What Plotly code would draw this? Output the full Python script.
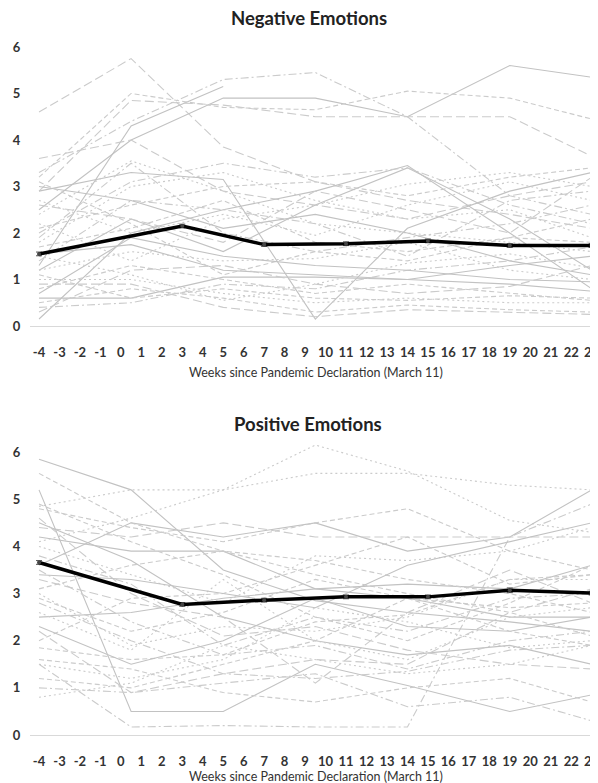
import plotly.graph_objects as go

# ---------------- data ----------------
x_ticks = list(range(-4, 24))
x_labels = [str(v) for v in x_ticks]
y_ticks = [0, 1, 2, 3, 4, 5, 6]

mean_weeks = [-4, 3, 7, 11, 15, 19, 23]
neg_mean = [1.55, 2.15, 1.75, 1.77, 1.83, 1.73, 1.73]
neg_err = [0.04, 0.04, 0.04, 0.04, 0.04, 0.04, 0.04]
pos_mean = [3.66, 2.77, 2.86, 2.93, 2.93, 3.07, 3.01]
pos_err = [0.04, 0.04, 0.04, 0.04, 0.04, 0.05, 0.04]

# individual trajectories (sampled at these weeks)
ind_weeks = [-4, 0.5, 5, 9.5, 14, 19, 23]

neg_individual = [
    [4.6, 5.75, 3.85, 3.1, 2.7, 2.4, 2.1],
    [3.3, 4.4, 5.3, 5.45, 4.5, 2.8, 2.4],
    [1.3, 4.3, 5.15, None, None, None, None],
    [2.5, 4.0, 4.9, 4.9, 4.5, 5.6, 5.35],
    [3.2, 5.0, 4.7, 4.65, 5.05, 4.9, 4.45],
    [2.9, 4.85, 4.75, 4.5, 4.5, 4.5, 3.65],
    [3.6, 4.0, 2.9, 2.6, 2.3, 2.8, 3.1],
    [1.2, 2.3, 1.6, 2.6, 3.4, 2.3, 1.2],
    [2.9, 3.3, 3.15, 0.15, 2.1, 2.9, 3.3],
    [0.15, 2.0, 2.5, 2.9, 3.45, 2.0, 0.8],
    [0.6, 0.6, 1.05, 1.05, 1.0, 0.9, 0.75],
    [1.55, 1.75, 1.2, 1.1, 1.0, 1.3, 1.5],
    [2.4, 3.55, 2.9, 2.2, 2.0, 1.8, 1.6],
    [1.9, 3.5, 2.0, 1.6, 1.9, 2.2, 2.6],
    [0.8, 1.3, 1.0, 0.7, 0.9, 0.7, 0.55],
    [1.0, 1.0, 0.7, 0.5, 0.6, 0.5, 0.5],
    [0.5, 0.8, 0.6, 0.3, 0.45, 0.35, 0.3],
    [2.1, 2.6, 3.0, 3.1, 2.8, 3.2, 3.4],
    [1.4, 2.7, 2.5, 2.2, 1.5, 2.7, 2.9],
    [2.2, 1.4, 2.3, 2.6, 3.05, 3.3, 3.0],
    [0.9, 0.9, 0.4, 0.2, 0.35, 0.3, 0.25],
    [1.7, 2.1, 2.7, 1.8, 1.6, 1.9, 2.3],
    [3.0, 2.7, 2.1, 2.4, 2.0, 1.4, 1.1],
    [1.2, 1.6, 1.4, 1.45, 1.8, 1.2, 1.0],
    [2.6, 2.3, 1.8, 2.9, 2.5, 2.0, 3.2],
    [0.4, 0.5, 0.9, 0.8, 1.2, 1.4, 1.7],
    [1.8, 3.0, 3.3, 2.7, 2.3, 2.5, 1.9],
    [3.1, 2.2, 1.1, 1.6, 1.4, 1.9, 1.8],
    [0.7, 1.9, 1.5, 1.3, 1.2, 1.0, 0.95],
    [2.0, 3.1, 3.5, 3.2, 3.4, 2.6, 2.2],
    [1.1, 0.6, 0.8, 0.6, 0.55, 0.65, 0.6],
    [2.7, 2.0, 2.4, 1.95, 2.6, 3.1, 2.7],
    [0.3, 1.2, 1.3, 0.9, 0.7, 0.85, 1.3],
    [1.5, 1.1, 0.55, 0.9, 1.35, 1.55, 1.25],
]
neg_styles = ["longdash", "dashdot", "solid", "solid", "dash", "longdash", "longdash",
              "solid", "solid", "solid", "solid", "solid", "dot", "dashdot", "dash",
              "dot", "dash", "dash", "dashdot", "dot", "longdash", "dash", "solid",
              "dot", "longdash", "dashdot", "dot", "dash", "solid", "dashdot", "dash",
              "dot", "longdash", "dot"]

pos_individual = [
    [5.85, 5.2, 3.5, 2.85, 2.6, 2.4, 2.2],
    [4.85, 5.2, 5.2, 6.15, 5.6, 4.55, 4.3],
    [4.1, 4.6, 5.2, 5.55, 5.55, 5.3, 5.2],
    [5.2, 0.5, 0.5, 1.5, 1.05, 0.5, 0.85],
    [1.5, 0.17, 0.2, 0.17, 0.17, 4.2, 4.9],
    [3.6, 4.5, 4.2, 4.5, 3.9, 4.2, 5.2],
    [4.2, 3.9, 3.9, 3.1, 2.9, 2.5, 2.5],
    [4.4, 4.2, 4.5, 4.2, 4.2, 4.2, 4.2],
    [5.55, 4.5, 3.9, 3.4, 3.0, 2.6, 2.1],
    [4.8, 4.4, 4.1, 4.5, 4.8, 3.9, 3.5],
    [4.5, 3.7, 2.5, 2.0, 1.7, 1.9, 1.5],
    [3.5, 2.4, 1.7, 1.9, 1.4, 2.0, 2.2],
    [2.5, 2.6, 2.9, 3.1, 3.2, 3.1, 3.6],
    [1.85, 1.6, 1.7, 2.4, 2.55, 3.3, 3.4],
    [2.2, 0.9, 1.3, 1.6, 1.5, 2.6, 3.1],
    [1.2, 1.0, 1.5, 2.0, 2.9, 2.7, 2.8],
    [3.0, 1.9, 2.3, 2.2, 2.5, 3.3, 3.3],
    [2.8, 2.0, 1.3, 1.2, 1.35, 1.8, 1.9],
    [1.5, 1.2, 1.6, 2.7, 2.4, 1.85, 2.0],
    [3.3, 2.8, 2.5, 1.1, 2.6, 3.5, 2.8],
    [2.0, 2.9, 3.0, 3.6, 4.2, 3.2, 3.4],
    [4.0, 3.4, 2.8, 3.8, 3.7, 3.9, 4.4],
    [3.8, 3.2, 1.9, 2.5, 2.2, 2.9, 3.0],
    [1.6, 1.4, 0.9, 0.7, 1.0, 1.2, 0.7],
    [2.3, 1.5, 2.0, 2.9, 2.3, 2.2, 2.5],
    [3.1, 3.6, 3.9, 3.7, 3.3, 3.0, 2.6],
    [4.6, 3.0, 2.1, 2.3, 1.8, 1.5, 1.4],
    [2.6, 1.8, 3.3, 2.0, 1.6, 2.5, 2.7],
    [1.0, 0.9, 1.1, 1.3, 0.6, 0.8, 0.3],
    [3.4, 3.3, 3.0, 2.7, 3.6, 4.1, 4.5],
    [2.9, 2.2, 2.6, 3.3, 2.9, 2.2, 1.9],
    [4.9, 4.1, 3.4, 2.5, 2.0, 2.8, 3.6],
    [0.8, 1.1, 1.9, 1.6, 1.3, 1.5, 1.9],
]
pos_styles = ["solid", "dot", "dot", "solid", "dashdot", "solid", "solid", "longdash",
              "dash", "dash", "solid", "dashdot", "solid", "dash", "longdash", "dash",
              "dot", "dashdot", "dot", "longdash", "dash", "dot", "dashdot", "dash",
              "solid", "dash", "longdash", "dot", "dashdot", "solid", "dash", "dash", "dot"]

titles = ["Negative Emotions", "Positive Emotions"]
x_title = "Weeks since Pandemic Declaration (March 11)"

# ---------------- figure ----------------
dash_map = {"solid": "solid", "dash": "5px,3px", "longdash": "9px,4px",
            "dot": "2px,3px", "dashdot": "8px,3px,2px,3px"}

fig = go.Figure()

def add_panel(individual, styles, means, errs, xa, ya):
    for vals, st in zip(individual, styles):
        col = "#c2c2c2" if st == "solid" else "#cbcbcb"
        fig.add_trace(go.Scatter(
            x=ind_weeks, y=vals, mode="lines", xaxis=xa, yaxis=ya,
            line=dict(color=col, width=1.1, dash=dash_map[st]),
            hoverinfo="skip", showlegend=False))
    fig.add_trace(go.Scatter(
        x=mean_weeks, y=means, mode="lines+markers", xaxis=xa, yaxis=ya,
        line=dict(color="black", width=3.5),
        marker=dict(size=4, color="#444"),
        error_y=dict(type="data", array=errs, color="#555", thickness=1, width=3),
        showlegend=False))

add_panel(neg_individual, neg_styles, neg_mean, neg_err, "x", "y")
add_panel(pos_individual, pos_styles, pos_mean, pos_err, "x2", "y2")

# page has an 8px body margin: figure pixel = page pixel - 8
W, H = 590.0, 775.0
L = 22.0
def py(page_y):
    return 1 - (page_y - 8) / H
def px(page_x):
    return ((page_x - 8) - L) / (W - L)

FONT = "Lato, Open Sans, sans-serif"
tickfont = dict(family=FONT, size=13, color="#333333", weight="bold")
xcommon = dict(range=[-4.44, 23.31], tickmode="array", tickvals=x_ticks, ticktext=x_labels,
               showgrid=False, zeroline=False, showline=True, linecolor="#d9d9d9", linewidth=1,
               ticks="outside", ticklen=14, tickcolor="rgba(0,0,0,0)",
               tickfont=tickfont, fixedrange=True, automargin=False,
               ticklabeloverflow="allow")
ycommon = dict(range=[0, 6.3], tickmode="array", tickvals=y_ticks,
               showgrid=False, zeroline=False, showline=False,
               ticks="outside", ticklen=6, tickcolor="rgba(0,0,0,0)",
               tickfont=tickfont, fixedrange=True, automargin=False)

fig.update_layout(
    template="none",
    width=int(W), height=int(H),
    margin=dict(l=L, r=0, t=0, b=0, autoexpand=False),
    paper_bgcolor="white", plot_bgcolor="white",
    xaxis=dict(**xcommon, domain=[0, 1], anchor="y"),
    yaxis=dict(**ycommon, domain=[py(326), py(33)], anchor="x"),
    xaxis2=dict(**xcommon, domain=[0, 1], anchor="y2"),
    yaxis2=dict(**ycommon, domain=[py(735), py(438)], anchor="x2"),
    annotations=[
        dict(text=titles[0], x=px(309), y=py(18), xref="paper", yref="paper", showarrow=False,
             xanchor="center", yanchor="middle",
             font=dict(family=FONT, size=18.5, color="#222", weight="bold")),
        dict(text=titles[1], x=px(308), y=py(424), xref="paper", yref="paper", showarrow=False,
             xanchor="center", yanchor="middle",
             font=dict(family=FONT, size=18.5, color="#222", weight="bold")),
        dict(text=x_title, x=px(316), y=py(372), xref="paper", yref="paper", showarrow=False,
             xanchor="center", yanchor="middle",
             font=dict(family=FONT, size=12.5, color="#333")),
        dict(text=x_title, x=px(316), y=py(776), xref="paper", yref="paper", showarrow=False,
             xanchor="center", yanchor="middle",
             font=dict(family=FONT, size=12.5, color="#333")),
    ],
)

fig.write_html("out.html")
